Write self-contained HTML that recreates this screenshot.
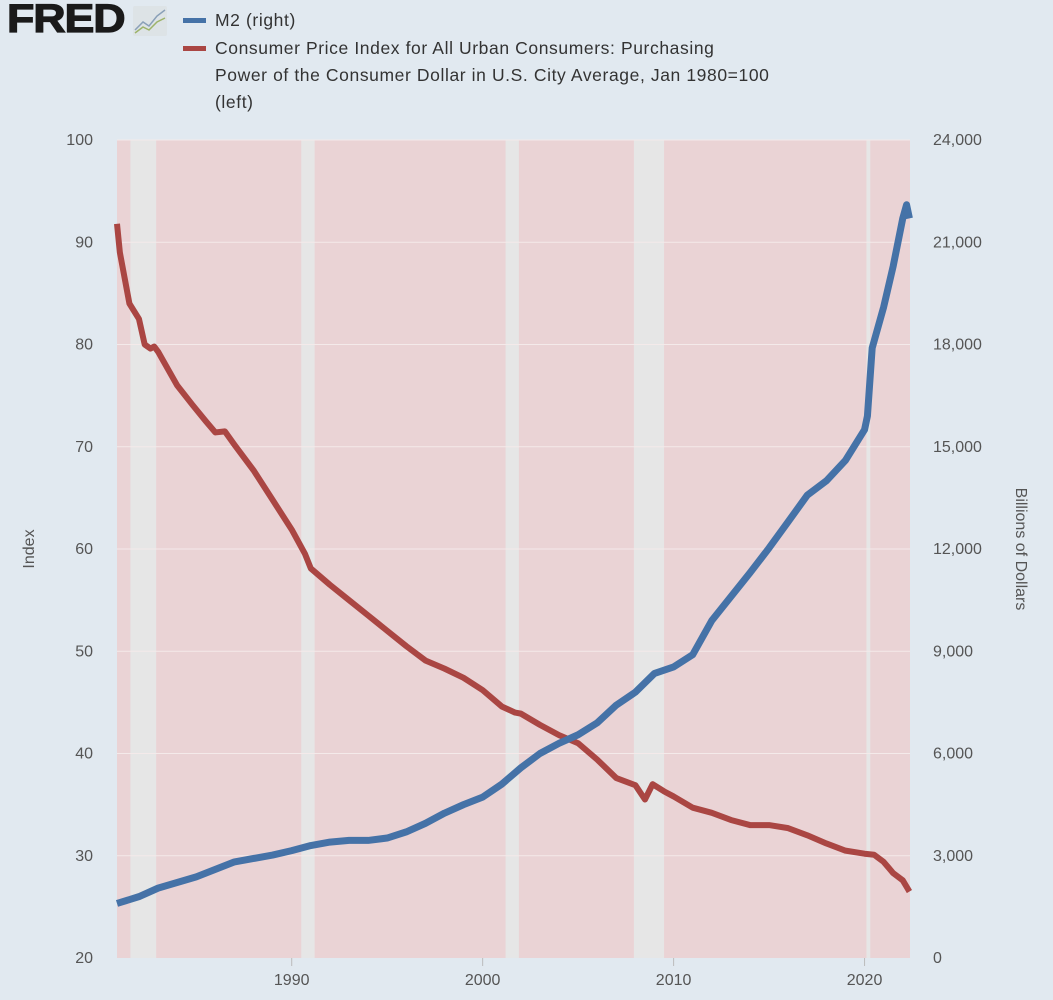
<!DOCTYPE html>
<html><head><meta charset="utf-8"><style>
body{margin:0;background:#e1e9f0;width:1053px;height:1000px;overflow:hidden;font-family:"Liberation Sans",sans-serif;}
#wrap{position:relative;width:1053px;height:1000px;}
.logo{position:absolute;left:7px;top:-3px;font-size:40px;font-weight:900;color:#1a1a1a;letter-spacing:-1px;transform:scaleX(1.12);transform-origin:left top;-webkit-text-stroke:1.2px #1a1a1a;}
.leg{position:absolute;left:215px;font-size:17.5px;color:#333;letter-spacing:0.6px;line-height:27px;}
.sw{position:absolute;left:183px;width:23px;height:5px;}
</style></head><body><div id="wrap">
<div class="logo">FRED</div>
<svg style="position:absolute;left:133px;top:6px" width="34" height="30"><rect width="34" height="30" fill="#dde3e6" rx="2"/><polyline points="2,24 10,16 16,20 24,10 32,4" fill="none" stroke="#8aa0b8" stroke-width="1.5"/><polyline points="2,27 10,21 16,24 24,16 32,12" fill="none" stroke="#9db36a" stroke-width="1.5"/></svg>
<div class="sw" style="top:18px;background:#4572a7"></div>
<div class="leg" style="top:7px">M2 (right)</div>
<div class="sw" style="top:46px;background:#aa4643"></div>
<div class="leg" style="top:35px">Consumer Price Index for All Urban Consumers: Purchasing<br>Power of the Consumer Dollar in U.S. City Average, Jan 1980=100<br>(left)</div>
<svg id="chart" width="1053" height="1000" style="position:absolute;left:0;top:0"></svg>
</div>
<script>
const cpiYears=[1980.85,1981,1981.5,1982,1982.3,1982.6,1982.8,1983,1984,1984.8,1985.5,1986,1986.5,1987,1988,1989,1990,1990.7,1991,1992,1993,1994,1995,1996,1997,1998,1999,2000,2001,2001.7,2002,2003,2004,2005,2006,2007,2008,2008.5,2008.9,2009.5,2010,2011,2012,2013,2014,2015,2016,2017,2018,2019,2020,2020.5,2021,2021.5,2022,2022.35];
const cpiValues=[91.8,89,84,82.5,80,79.6,79.8,79.3,76,74.1,72.5,71.4,71.5,70.2,67.7,64.8,61.9,59.5,58.1,56.5,55,53.5,52,50.5,49.1,48.3,47.4,46.2,44.6,44,43.9,42.8,41.8,41,39.4,37.6,36.9,35.5,37,36.3,35.8,34.7,34.2,33.5,33,33,32.7,32,31.2,30.5,30.2,30.1,29.4,28.3,27.6,26.5];
const m2Years=[1980.85,1982,1983,1985,1987,1989,1990,1991,1992,1993,1994,1995,1996,1997,1998,1999,2000,2001,2002,2003,2004,2005,2006,2007,2008,2009,2010,2011,2012,2013,2014,2015,2016,2017,2018,2019,2020,2020.15,2020.4,2020.6,2021,2021.5,2022,2022.2,2022.35];
const m2Values=[1600,1800,2050,2380,2820,3020,3150,3300,3400,3450,3450,3520,3700,3950,4250,4500,4720,5100,5580,6000,6300,6550,6900,7420,7800,8350,8540,8900,9900,10600,11300,12030,12800,13580,14000,14600,15500,15900,17900,18300,19100,20300,21700,22100,21700];
const recessions=[[1981.55,1982.9],[1990.5,1991.2],[2001.2,2001.9],[2007.92,2009.5],[2020.1,2020.3]];
const xTicks=[1990,2000,2010,2020];
const leftTicks=[20,30,40,50,60,70,80,90,100];
const rightTicks=[0,3000,6000,9000,12000,15000,18000,21000,24000];
const NS="http://www.w3.org/2000/svg",svg=document.getElementById('chart');
const L=117,R=910,T=140,B=958,x0=1980.85,x1=2022.38;
const X=v=>L+(v-x0)/(x1-x0)*(R-L);
const YL=v=>B-(v-20)/80*(B-T);
const YR=v=>B-v/24000*(B-T);
function mk(t,a){const e=document.createElementNS(NS,t);for(const k in a)e.setAttribute(k,a[k]);svg.appendChild(e);return e;}
const bg=mk('rect',{x:L,y:T,width:R-L,height:B-T,fill:'#ead3d5'});


recessions.forEach(r=>{const e=mk('rect',{x:X(r[0]),y:T,width:X(r[1])-X(r[0]),height:B-T,fill:'#e6e6e6'});

});
leftTicks.forEach((v,i)=>{if(i>0){const g=mk('line',{x1:L,x2:R,y1:YL(v),y2:YL(v),stroke:'#f4eaea','stroke-width':1});

}
const t=mk('text',{x:93,y:YL(v)+5,'text-anchor':'end','font-size':16,fill:'#555'});t.textContent=v;

});
rightTicks.forEach(v=>{const t=mk('text',{x:933,y:YR(v)+5,'font-size':16,fill:'#555'});t.textContent=v.toLocaleString('en-US');

});
xTicks.forEach(v=>{const t=mk('text',{x:X(v),y:985,'text-anchor':'middle','font-size':16,fill:'#555'});t.textContent=v;


const k=mk('line',{x1:X(v),x2:X(v),y1:B,y2:B+8,stroke:'#bbb'});

});
const yl=mk('text',{transform:'translate(34,549) rotate(-90)','text-anchor':'middle','font-size':16,fill:'#555'});yl.textContent='Index';


const yr=mk('text',{transform:'translate(1016,549) rotate(90)','text-anchor':'middle','font-size':16,fill:'#555'});yr.textContent='Billions of Dollars';


const cp=mk('polyline',{points:cpiYears.map((y,i)=>X(y)+','+YL(cpiValues[i])).join(' '),fill:'none',stroke:'#aa4643','stroke-width':6,'stroke-linejoin':'round'});


const m2=mk('polyline',{points:m2Years.map((y,i)=>X(y)+','+YR(m2Values[i])).join(' '),fill:'none',stroke:'#4572a7','stroke-width':7,'stroke-linejoin':'round'});


</script></body></html>
